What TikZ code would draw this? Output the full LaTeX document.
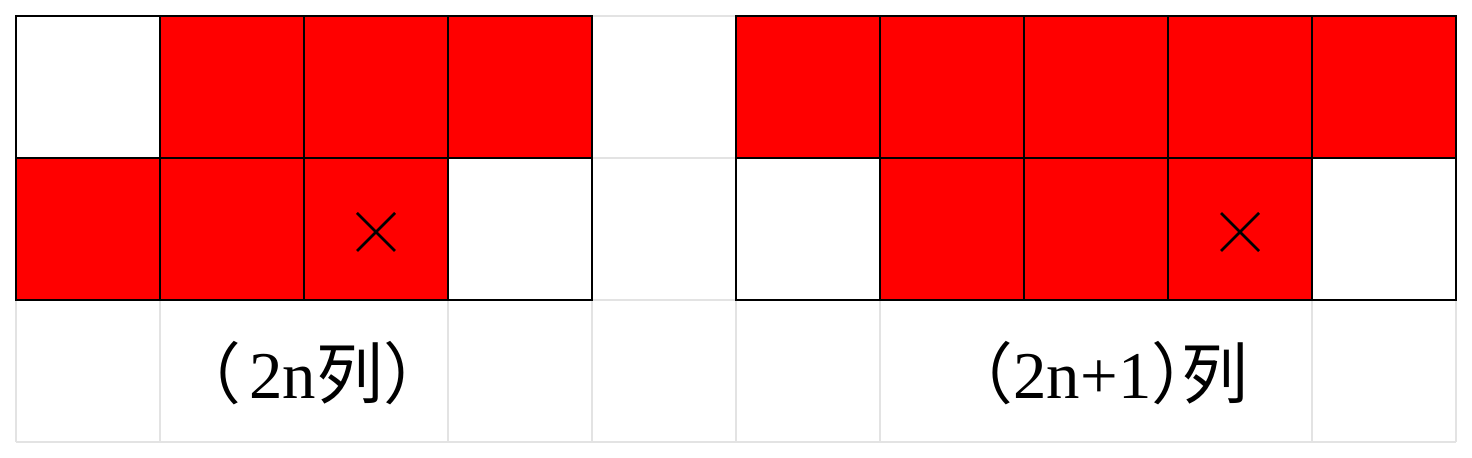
\documentclass[tikz,border=0pt]{standalone}
\usepackage{fontspec}
\setmainfont{Liberation Serif}
\newfontfamily\cjk{Noto Sans CJK SC}
\usetikzlibrary{positioning}

\begin{document}
\begin{tikzpicture}[
    x=0.01cm, y=-0.01cm,
    gridline/.style={draw=black!11, line width=0.02cm},
    cell/.style={draw=black, line width=0.02cm, minimum width=1.44cm, minimum height=1.42cm, inner sep=0pt, outer sep=0pt},
    cross/.style={draw=black, line width=0.025cm},
    captext/.style={font=\fontsize{19}{22}\selectfont, inner sep=0pt, anchor=west}
]
\useasboundingbox (0,0) rectangle (1472,458);

% light sheet grid behind everything (caption cells are merged)
\foreach \i in {0,...,10}
  \draw[gridline] (16+144*\i,16) -- (16+144*\i,300);
\foreach \i in {0,1,3,4,5,6,9,10}
  \draw[gridline] (16+144*\i,300) -- (16+144*\i,442);
\foreach \j in {0,...,3}
  \draw[gridline] (16,16+142*\j) -- (1456,16+142*\j);

% left board, 2n columns
\foreach \c/\r/\f/\n in {0/0/white/a1, 1/0/red/a2, 2/0/red/a3, 3/0/red/a4,
                         0/1/red/a5, 1/1/red/a6, 2/1/red/a7, 3/1/white/a8}
  \node[cell, fill=\f] (\n) at (88+144*\c, 87+142*\r) {};

% right board, 2n+1 columns
\foreach \c/\r/\f/\n in {5/0/red/b1, 6/0/red/b2, 7/0/red/b3, 8/0/red/b4, 9/0/red/b5,
                         5/1/white/b6, 6/1/red/b7, 7/1/red/b8, 8/1/red/b9, 9/1/white/b10}
  \node[cell, fill=\f] (\n) at (88+144*\c, 87+142*\r) {};

% marked squares
\draw[cross] (a7.center) ++(-19,-16) -- ++(38,38);
\draw[cross] (a7.center) ++(-19,22) -- ++(38,-38);
\draw[cross] (b9.center) ++(-19,-16) -- ++(38,38);
\draw[cross] (b9.center) ++(-19,22) -- ++(38,-38);

% captions
\node[captext] (capa) at (174,373) {{\cjk （}\hspace{0.12em}2n{\cjk 列）}};
\node[captext] (capb) at (946,373) {{\cjk （}2n+1{\cjk ）}\hspace{-0.55em}{\cjk 列}};

\end{tikzpicture}
\end{document}
